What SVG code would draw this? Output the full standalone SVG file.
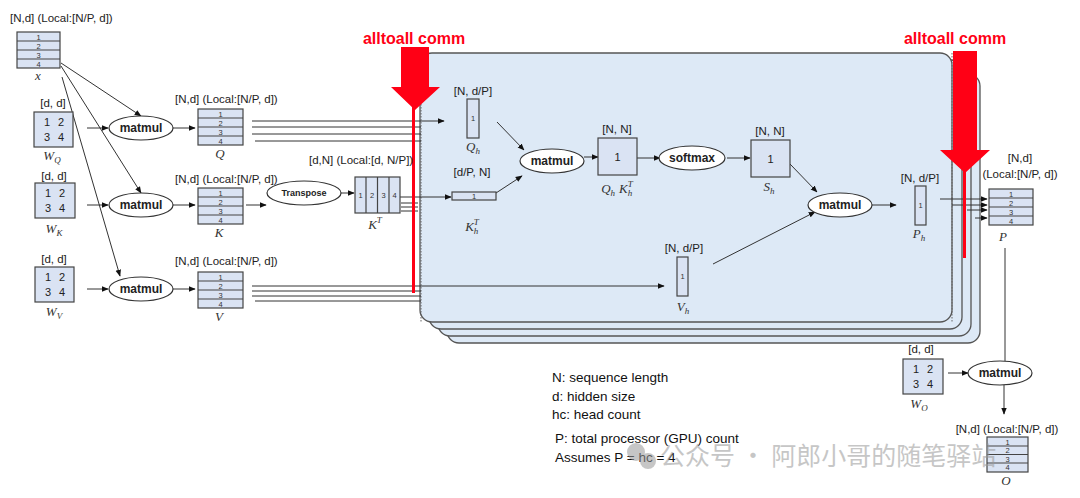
<svg xmlns="http://www.w3.org/2000/svg" width="1080" height="498" viewBox="0 0 1080 498">
<defs>
<marker id="ah" viewBox="0 0 10 10" refX="9" refY="5" markerWidth="7" markerHeight="7" orient="auto-start-reverse" markerUnits="userSpaceOnUse"><path d="M0,1 L10,5 L0,9 z" fill="#111"/></marker>
<style>
.t{font-family:"Liberation Sans",Arial,sans-serif;font-size:11.5px;fill:#222}
.b{font-family:"Liberation Sans",Arial,sans-serif;font-size:12px;font-weight:bold;fill:#222}
.n{font-family:"Liberation Sans",Arial,sans-serif;font-size:7.5px;fill:#333}
.m{font-family:"Liberation Sans",Arial,sans-serif;font-size:11px;fill:#222}
.i{font-family:"Liberation Serif","Times New Roman",serif;font-style:italic;font-size:13px;fill:#333}
.s{font-size:9px}
.box{fill:#dae3f3;stroke:#444;stroke-width:1.2}
.row{stroke:#444;stroke-width:1.2}
.el{fill:#fff;stroke:#333;stroke-width:1.2}
.ln{stroke:#333;stroke-width:1;fill:none}
.ar{stroke:#333;stroke-width:1;fill:none;marker-end:url(#ah)}
.pan{fill:#dde9f6;stroke:#555;stroke-width:1.3}
.red{fill:#ff0015}
.rt{font-family:"Liberation Sans",Arial,sans-serif;font-size:16px;font-weight:bold;fill:#ff0015}
.leg{font-family:"Liberation Sans",Arial,sans-serif;font-size:13.5px;fill:#111}
</style>
</defs>
<rect width="1080" height="498" fill="#fff"/>

<g id="panels">
<rect class="pan" x="447" y="74" width="533" height="269" rx="12"/>
<rect class="pan" x="438" y="67" width="533" height="269" rx="12"/>
<rect class="pan" x="429" y="60" width="533" height="269" rx="12"/>
<rect class="pan" x="420" y="53" width="532" height="269" rx="12"/>
<line x1="421" y1="53" x2="421" y2="322" stroke="#666" stroke-dasharray="1.5,1.5"/>
<line x1="952" y1="53" x2="952" y2="322" stroke="#666" stroke-dasharray="1.5,1.5"/>
</g>

<g id="connectors">
<line class="ar" x1="61" y1="63" x2="141" y2="116"/>
<line class="ar" x1="61" y1="66" x2="141" y2="193"/>
<line class="ar" x1="62" y1="77" x2="120" y2="276"/>
<line class="ar" x1="87" y1="128" x2="108" y2="128"/>
<line class="ar" x1="87" y1="205" x2="108" y2="205"/>
<line class="ar" x1="87" y1="289" x2="108" y2="289"/>
<line class="ar" x1="173" y1="128" x2="195" y2="128"/>
<line class="ar" x1="173" y1="205" x2="195" y2="205"/>
<line class="ar" x1="173" y1="289" x2="195" y2="289"/>
<line class="ar" x1="252" y1="121" x2="444" y2="121"/>
<line class="ln" x1="252" y1="127" x2="421" y2="127"/>
<line class="ln" x1="252" y1="134" x2="421" y2="134"/>
<line class="ln" x1="255" y1="141" x2="421" y2="141"/>
<line class="ar" x1="246" y1="205" x2="266" y2="205"/>
<line class="ar" x1="341" y1="193" x2="354" y2="193"/>
<line class="ar" x1="400" y1="197" x2="451" y2="197"/>
<line class="ln" x1="401" y1="203" x2="418" y2="203"/>
<line class="ln" x1="401" y1="207" x2="418" y2="207"/>
<line class="ln" x1="401" y1="211" x2="418" y2="211"/>
<line class="ar" x1="252" y1="286" x2="664" y2="286"/>
<line class="ln" x1="252" y1="291" x2="421" y2="291"/>
<line class="ln" x1="252" y1="296" x2="421" y2="296"/>
<line class="ln" x1="255" y1="301" x2="421" y2="301"/>
<line class="ar" x1="497" y1="122" x2="524" y2="150"/>
<line class="ar" x1="496" y1="193" x2="522" y2="176"/>
<line class="ar" x1="584" y1="157" x2="598" y2="157"/>
<line class="ar" x1="637" y1="158" x2="660" y2="158"/>
<line class="ar" x1="727" y1="158" x2="750" y2="158"/>
<line class="ar" x1="790" y1="164" x2="817" y2="192"/>
<line class="ar" x1="713" y1="264" x2="815" y2="212"/>
<line class="ar" x1="872" y1="205" x2="896" y2="205"/>
<line class="ar" x1="940" y1="199" x2="987" y2="199"/>
<line class="ar" x1="952" y1="205" x2="987" y2="205"/>
<line class="ar" x1="967" y1="210" x2="987" y2="210"/>
<line class="ar" x1="975" y1="218" x2="987" y2="218"/>
<line class="ln" x1="1005" y1="248" x2="1005" y2="361"/>
<line class="ar" x1="948" y1="373" x2="968" y2="373"/>
<line class="ar" x1="1004" y1="385" x2="1004" y2="414"/>
</g>

<g id="alltoall-left">
<text class="rt" x="414" y="44" text-anchor="middle">alltoall comm</text>
<polygon class="red" points="401,47 429,47 429,87 440,87 415,110 391,87 401,87"/>
<rect class="red" x="412" y="106" width="3" height="187"/>
</g>
<g id="alltoall-right">
<text class="rt" x="955" y="44" text-anchor="middle">alltoall comm</text>
<polygon class="red" points="953,51 977,51 977,150 990,150 965,173 940,150 953,150"/>
<rect class="red" x="963" y="170" width="3" height="88"/>
</g>

<g id="x">
<text class="t" x="10" y="22">[N,d] (Local:[N/P, d])</text>
<rect class="box" x="17" y="32" width="43" height="36"/>
<line class="row" x1="17" y1="41" x2="60" y2="41"/><line class="row" x1="17" y1="50" x2="60" y2="50"/><line class="row" x1="17" y1="59" x2="60" y2="59"/>
<text class="n" x="38.5" y="39.5" text-anchor="middle">1</text><text class="n" x="38.5" y="48.5" text-anchor="middle">2</text><text class="n" x="38.5" y="57.5" text-anchor="middle">3</text><text class="n" x="38.5" y="66.5" text-anchor="middle">4</text>
<text class="i" x="38" y="80" text-anchor="middle">x</text>
</g>

<g id="wq">
<text class="t" x="53" y="107" text-anchor="middle">[d, d]</text>
<rect class="box" x="34" y="112" width="39" height="35"/>
<text class="m" x="47" y="126" text-anchor="middle">1</text><text class="m" x="61" y="126" text-anchor="middle">2</text>
<text class="m" x="47" y="141" text-anchor="middle">3</text><text class="m" x="61" y="141" text-anchor="middle">4</text>
<text class="i" x="52" y="160" text-anchor="middle">W<tspan class="s" dy="3">Q</tspan></text>
</g>
<g id="wk">
<text class="t" x="54" y="180" text-anchor="middle">[d, d]</text>
<rect class="box" x="35" y="183" width="40" height="35"/>
<text class="m" x="48" y="197" text-anchor="middle">1</text><text class="m" x="62" y="197" text-anchor="middle">2</text>
<text class="m" x="48" y="212" text-anchor="middle">3</text><text class="m" x="62" y="212" text-anchor="middle">4</text>
<text class="i" x="54" y="233" text-anchor="middle">W<tspan class="s" dy="3">K</tspan></text>
</g>
<g id="wv">
<text class="t" x="54" y="263" text-anchor="middle">[d, d]</text>
<rect class="box" x="35" y="267" width="39" height="35"/>
<text class="m" x="48" y="281" text-anchor="middle">1</text><text class="m" x="62" y="281" text-anchor="middle">2</text>
<text class="m" x="48" y="296" text-anchor="middle">3</text><text class="m" x="62" y="296" text-anchor="middle">4</text>
<text class="i" x="54" y="316" text-anchor="middle">W<tspan class="s" dy="3">V</tspan></text>
</g>

<g id="matmul-q"><ellipse class="el" cx="141" cy="128" rx="32" ry="12"/><text class="b" x="141" y="132" text-anchor="middle">matmul</text></g>
<g id="matmul-k"><ellipse class="el" cx="141" cy="205" rx="32" ry="12"/><text class="b" x="141" y="209" text-anchor="middle">matmul</text></g>
<g id="matmul-v"><ellipse class="el" cx="141" cy="289" rx="32" ry="12"/><text class="b" x="141" y="293" text-anchor="middle">matmul</text></g>

<g id="q">
<text class="t" x="175" y="103">[N,d] (Local:[N/P, d])</text>
<rect class="box" x="198" y="109" width="45" height="36"/>
<line class="row" x1="198" y1="118" x2="243" y2="118"/><line class="row" x1="198" y1="127" x2="243" y2="127"/><line class="row" x1="198" y1="136" x2="243" y2="136"/>
<text class="n" x="220.5" y="116.5" text-anchor="middle">1</text><text class="n" x="220.5" y="125.5" text-anchor="middle">2</text><text class="n" x="220.5" y="134.5" text-anchor="middle">3</text><text class="n" x="220.5" y="143.5" text-anchor="middle">4</text>
<text class="i" x="220" y="158" text-anchor="middle">Q</text>
</g>
<g id="k">
<text class="t" x="175" y="183">[N,d] (Local:[N/P, d])</text>
<rect class="box" x="198" y="188" width="45" height="36"/>
<line class="row" x1="198" y1="197" x2="243" y2="197"/><line class="row" x1="198" y1="206" x2="243" y2="206"/><line class="row" x1="198" y1="215" x2="243" y2="215"/>
<text class="n" x="220.5" y="195.5" text-anchor="middle">1</text><text class="n" x="220.5" y="204.5" text-anchor="middle">2</text><text class="n" x="220.5" y="213.5" text-anchor="middle">3</text><text class="n" x="220.5" y="222.5" text-anchor="middle">4</text>
<text class="i" x="219" y="237" text-anchor="middle">K</text>
</g>
<g id="v">
<text class="t" x="175" y="265">[N,d] (Local:[N/P, d])</text>
<rect class="box" x="198" y="272" width="45" height="36"/>
<line class="row" x1="198" y1="281" x2="243" y2="281"/><line class="row" x1="198" y1="290" x2="243" y2="290"/><line class="row" x1="198" y1="299" x2="243" y2="299"/>
<text class="n" x="220.5" y="279.5" text-anchor="middle">1</text><text class="n" x="220.5" y="288.5" text-anchor="middle">2</text><text class="n" x="220.5" y="297.5" text-anchor="middle">3</text><text class="n" x="220.5" y="306.5" text-anchor="middle">4</text>
<text class="i" x="219" y="321" text-anchor="middle">V</text>
</g>

<g id="transpose"><ellipse class="el" cx="304" cy="193" rx="37" ry="12"/><text class="b" x="304" y="196" text-anchor="middle" style="font-size:9px">Transpose</text></g>

<g id="kt">
<text class="t" x="309" y="164">[d,N] (Local:[d, N/P])</text>
<rect class="box" x="355" y="177" width="45" height="36"/>
<line class="row" x1="366" y1="177" x2="366" y2="213"/><line class="row" x1="377.5" y1="177" x2="377.5" y2="213"/><line class="row" x1="389" y1="177" x2="389" y2="213"/>
<text class="n" x="360.5" y="198" text-anchor="middle">1</text><text class="n" x="372" y="198" text-anchor="middle">2</text><text class="n" x="383.5" y="198" text-anchor="middle">3</text><text class="n" x="394.5" y="198" text-anchor="middle">4</text>
<text class="i" x="375" y="229" text-anchor="middle">K<tspan class="s" dy="-6">T</tspan></text>
</g>

<g id="qh">
<text class="t" x="473" y="95" text-anchor="middle">[N, d/P]</text>
<rect class="box" x="467" y="99" width="12" height="39"/>
<text class="n" x="473" y="121" text-anchor="middle">1</text>
<text class="i" x="473" y="151" text-anchor="middle">Q<tspan class="s" dy="3">h</tspan></text>
</g>
<g id="kht">
<text class="t" x="472" y="176" text-anchor="middle">[d/P, N]</text>
<rect class="box" x="452" y="192" width="44" height="8"/>
<text class="n" x="474" y="199" text-anchor="middle">1</text>
<text class="i" x="472" y="231" text-anchor="middle">K<tspan class="s" dy="-6">T</tspan><tspan class="s" dx="-5" dy="9">h</tspan></text>
</g>
<g id="matmul-qk"><ellipse class="el" cx="552" cy="161" rx="32" ry="12"/><text class="b" x="552" y="165" text-anchor="middle">matmul</text></g>
<g id="qk">
<text class="t" x="617" y="133" text-anchor="middle">[N, N]</text>
<rect class="box" x="598" y="138" width="39" height="37"/>
<text class="m" x="617.5" y="161" text-anchor="middle">1</text>
<text class="i" x="617" y="193" text-anchor="middle">Q<tspan class="s" dy="3">h</tspan><tspan dx="4" dy="-3">K</tspan><tspan class="s" dy="-6">T</tspan><tspan class="s" dx="-5" dy="9">h</tspan></text>
</g>
<g id="softmax"><ellipse class="el" cx="692" cy="158" rx="33" ry="12"/><text class="b" x="692" y="162" text-anchor="middle">softmax</text></g>
<g id="sh">
<text class="t" x="770" y="135" text-anchor="middle">[N, N]</text>
<rect class="box" x="751" y="140" width="39" height="37"/>
<text class="m" x="770.5" y="163" text-anchor="middle">1</text>
<text class="i" x="769" y="191" text-anchor="middle">S<tspan class="s" dy="3">h</tspan></text>
</g>
<g id="matmul-sv"><ellipse class="el" cx="840" cy="205" rx="32" ry="12"/><text class="b" x="840" y="209" text-anchor="middle">matmul</text></g>
<g id="ph">
<text class="t" x="920" y="182" text-anchor="middle">[N, d/P]</text>
<rect class="box" x="915" y="186" width="11" height="39"/>
<text class="n" x="920.5" y="208" text-anchor="middle">1</text>
<text class="i" x="919" y="238" text-anchor="middle">P<tspan class="s" dy="3">h</tspan></text>
</g>
<g id="vh">
<text class="t" x="684" y="252" text-anchor="middle">[N, d/P]</text>
<rect class="box" x="677" y="257" width="11" height="39"/>
<text class="n" x="682.5" y="279" text-anchor="middle">1</text>
<text class="i" x="683" y="311" text-anchor="middle">V<tspan class="s" dy="3">h</tspan></text>
</g>

<g id="p">
<text class="t" x="1020" y="162" text-anchor="middle">[N,d]</text>
<text class="t" x="1020" y="178" text-anchor="middle">(Local:[N/P, d])</text>
<rect class="box" x="989" y="189" width="44" height="36"/>
<line class="row" x1="989" y1="198" x2="1033" y2="198"/><line class="row" x1="989" y1="207" x2="1033" y2="207"/><line class="row" x1="989" y1="216" x2="1033" y2="216"/>
<text class="n" x="1011" y="196.5" text-anchor="middle">1</text><text class="n" x="1011" y="205.5" text-anchor="middle">2</text><text class="n" x="1011" y="214.5" text-anchor="middle">3</text><text class="n" x="1011" y="223.5" text-anchor="middle">4</text>
<text class="i" x="1003" y="241" text-anchor="middle">P</text>
</g>

<g id="wo">
<text class="t" x="921" y="353" text-anchor="middle">[d, d]</text>
<rect class="box" x="903" y="359" width="40" height="35"/>
<text class="m" x="916" y="373" text-anchor="middle">1</text><text class="m" x="930" y="373" text-anchor="middle">2</text>
<text class="m" x="916" y="388" text-anchor="middle">3</text><text class="m" x="930" y="388" text-anchor="middle">4</text>
<text class="i" x="919" y="408" text-anchor="middle">W<tspan class="s" dy="3">O</tspan></text>
</g>
<g id="matmul-o"><ellipse class="el" cx="1000" cy="373" rx="32" ry="12"/><text class="b" x="1000" y="377" text-anchor="middle">matmul</text></g>
<g id="o">
<text class="t" x="1007" y="433" text-anchor="middle">[N,d] (Local:[N/P, d])</text>
<rect class="box" x="987" y="437" width="41" height="35"/>
<line class="row" x1="987" y1="446" x2="1028" y2="446"/><line class="row" x1="987" y1="454.5" x2="1028" y2="454.5"/><line class="row" x1="987" y1="463" x2="1028" y2="463"/>
<text class="n" x="1007.5" y="444.5" text-anchor="middle">1</text><text class="n" x="1007.5" y="453" text-anchor="middle">2</text><text class="n" x="1007.5" y="461.5" text-anchor="middle">3</text><text class="n" x="1007.5" y="470" text-anchor="middle">4</text>
<text class="i" x="1006" y="485" text-anchor="middle">O</text>
</g>

<g id="legend">
<text class="leg" x="552" y="382">N: sequence length</text>
<text class="leg" x="552" y="401">d: hidden size</text>
<text class="leg" x="552" y="419">hc: head count</text>
<text class="leg" x="555" y="443">P: total processor (GPU) count</text>
<text class="leg" x="555" y="462">Assumes P = hc = 4</text>
</g>

<g id="watermark" opacity="0.55">
<circle cx="636" cy="452" r="9" fill="#999"/>
<circle cx="648" cy="461" r="8" fill="#999"/>
<text x="660" y="465" style="font-family:'Noto Sans CJK SC',sans-serif;font-size:25px;fill:#999">公众号 · 阿郎小哥的随笔驿站</text>
</g>
</svg>
